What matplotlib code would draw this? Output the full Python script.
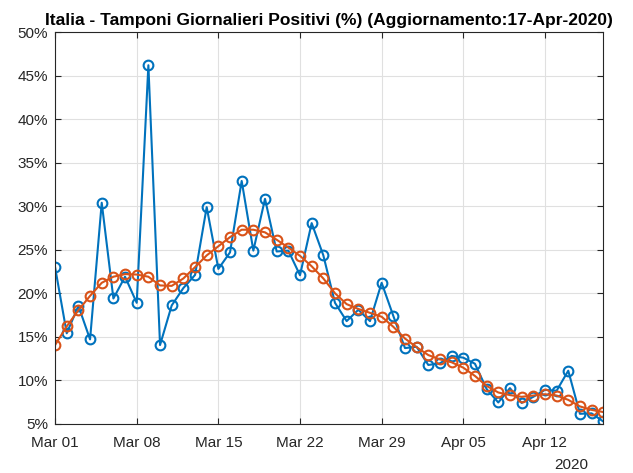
import numpy as np
import pandas as pd
import matplotlib
matplotlib.use('Agg')
import matplotlib.pyplot as plt
import matplotlib.dates as mdates

plt.rcParams['font.family'] = ['Liberation Sans', 'DejaVu Sans']

#Daily dates
dates = pd.date_range('2020-03-01', '2020-04-17', freq='D')

#Daily positive swabs (%)
positivi = [23.0, 15.4, 18.55, 14.7, 30.4, 19.4, 21.9, 18.9, 46.2, 14.05,
            18.6, 20.6, 22.1, 29.9, 22.8, 24.7, 32.9, 24.9, 30.85, 24.8,
            24.9, 22.07, 28.06, 24.36, 18.9, 16.8, 18.1, 16.8, 21.2, 17.4,
            13.7, 13.85, 11.76, 11.95, 12.8, 12.6, 11.9, 9.0, 7.45, 9.1,
            7.4, 8.1, 8.9, 8.8, 11.1, 6.15, 6.2, 5.27]

#Smoothed trend (%)
media = [14.05, 16.2, 18.05, 19.7, 21.2, 21.9, 22.2, 22.15, 21.9, 20.9,
         20.85, 21.7, 23.0, 24.35, 25.4, 26.45, 27.3, 27.3, 27.0, 26.15,
         25.25, 24.3, 23.1, 21.7, 20.0, 18.75, 18.2, 17.75, 17.3, 16.15,
         14.8, 13.8, 12.9, 12.4, 12.07, 11.45, 10.5, 9.35, 8.6, 8.3,
         8.1, 8.25, 8.4, 8.25, 7.75, 7.0, 6.6, 6.35]

yticks = np.arange(5, 51, 5)
xticks = pd.date_range('2020-03-01', '2020-04-12', freq='7D')

fig = plt.figure(figsize=(6.33, 4.73), dpi=100)
ax = fig.add_axes([0.087, 0.104, 0.866, 0.828])

ax.plot(dates, positivi, '-o', color='#0072BD', lw=1.5, ms=7,
        mfc='none', mew=1.5)
ax.plot(dates, media, '-o', color='#D95319', lw=1.5, ms=7,
        mfc='none', mew=1.5)

ax.set_xlim(dates[0], dates[-1])
ax.set_ylim(5, 50)
ax.set_yticks(yticks)
ax.set_yticklabels([f'{v}%' for v in yticks])
ax.set_xticks(xticks)
ax.xaxis.set_major_formatter(mdates.DateFormatter('%b %d'))

ax.grid(True, color='#e0e0e0', lw=0.8)
ax.set_axisbelow(True)
ax.tick_params(direction='in', length=4, labelsize=11, color='#262626',
               labelcolor='#262626', top=True, right=True)
ax.tick_params(axis='x', pad=9)
ax.tick_params(axis='y', pad=5)
for s in ax.spines.values():
    s.set_color('#262626')
    s.set_linewidth(0.8)

ax.set_title('Italia - Tamponi Giornalieri Positivi (%) (Aggiornamento:17-Apr-2020)',
             fontsize=12.5, fontweight='bold', pad=5)
fig.text(0.903, 0.032, '2020', ha='center', va='top', fontsize=11,
         color='#262626')

fig.savefig('out.png', dpi=100)
